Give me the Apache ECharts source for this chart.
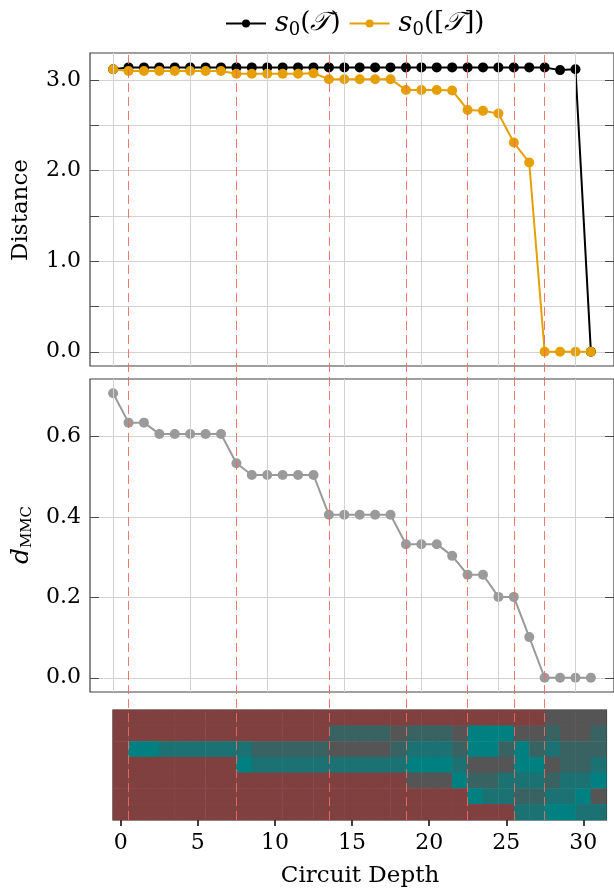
<!DOCTYPE html>
<html><head><meta charset="utf-8">
<script src="https://cdn.jsdelivr.net/npm/echarts@6/dist/echarts.min.js"></script>
<style>html,body{margin:0;padding:0;background:#fff}#c{width:614px;height:890px}</style>
</head><body><div id="c"></div>
<script>
// ---------- data ----------
const depth = [0,1,2,3,4,5,6,7,8,9,10,11,12,13,14,15,16,17,18,19,20,21,22,23,24,25,26,27,28,29,30,31];
const s0T  = [3.12,3.14,3.14,3.14,3.14,3.14,3.14,3.14,3.14,3.14,3.14,3.14,3.14,3.14,3.14,3.14,3.14,3.14,3.14,3.14,3.14,3.14,3.14,3.14,3.14,3.14,3.14,3.14,3.14,3.11,3.12,0];
const s0TT = [3.12,3.10,3.10,3.10,3.10,3.10,3.10,3.10,3.07,3.07,3.07,3.07,3.07,3.075,3.01,3.01,3.01,3.01,3.01,2.89,2.89,2.89,2.885,2.67,2.66,2.63,2.31,2.09,0,0,0,0];
const dMMC = [0.707,0.634,0.634,0.606,0.606,0.606,0.606,0.606,0.533,0.504,0.504,0.504,0.504,0.504,0.405,0.405,0.405,0.405,0.405,0.332,0.332,0.332,0.303,0.256,0.256,0.201,0.201,0.101,0,0,0,0];
const transitions = [1, 8, 14, 19, 23, 26, 28];
const xTicks = [0, 5, 10, 15, 20, 25, 30];
const distTicks = [0, 0.5, 1, 1.5, 2, 2.5, 3];
const distLabels = [0, 1, 2, 3];
const mmcTicks = [0, 0.2, 0.4, 0.6];
// heatmap rows (top to bottom); codes: 0 brown, 1 gray, 2 slate, 3 dark teal, 4 teal
const heatRow0 = [0,0,0,0,0,0,0,0,0,0,0,0,0,0,0,0,0,0,0,0,0,0,0,0,0,0,0,0,1,1,1,1];
const heatRow1 = [0,0,0,0,0,0,0,0,0,0,0,0,0,0,2,2,2,2,1,2,2,2,1,4,4,4,1,1,2,1,1,2];
const heatRow2 = [0,4,4,3,3,3,3,3,3,2,2,2,2,2,1,1,1,1,2,3,3,3,2,4,4,2,4,2,3,2,2,2];
const heatRow3 = [0,0,0,0,0,0,0,0,4,3,3,3,3,3,3,3,3,3,3,4,4,4,3,1,1,1,4,4,1,2,2,3];
const heatRow4 = [0,0,0,0,0,0,0,0,0,0,0,0,0,0,0,0,0,0,0,1,1,1,4,2,2,3,3,3,2,3,3,4];
const heatRow5 = [0,0,0,0,0,0,0,0,0,0,0,0,0,0,0,0,0,0,0,0,0,0,0,4,3,3,2,2,3,3,4,1];
const heatRow6 = [0,0,0,0,0,0,0,0,0,0,0,0,0,0,0,0,0,0,0,0,0,0,0,0,0,0,3,3,4,4,3,3];
const heatColors = ['#804040', '#555555', '#396363', '#1c7272', '#008080'];

// ---------- build ----------
const heatRows = [heatRow0, heatRow1, heatRow2, heatRow3, heatRow4, heatRow5, heatRow6];
const heatData = [];
heatRows.forEach((row, r) => row.forEach((v, c) => heatData.push([c, r, v])));

const FONT = '"DejaVu Serif", serif';
const tickCol = '#4a4a4a';
const gridCol = '#d2d2d2';

function xMirror(gridIndex, position) {
  return {
    type: 'value', gridIndex, position, min: -1.5, max: 32.5,
    axisLine: { show: false, onZero: false },
    axisTick: { show: true, inside: true, length: 9, customValues: xTicks, lineStyle: { color: tickCol, width: 1 } },
    axisLabel: { show: false },
    splitLine: { show: false }
  };
}
function yAxisDef(gridIndex, position, min, max, ticks, labels, split) {
  return {
    type: 'value', gridIndex, position, min, max,
    axisLine: { show: false, onZero: false },
    axisTick: { show: true, inside: true, length: 9, customValues: ticks, lineStyle: { color: tickCol, width: 1 } },
    axisLabel: labels ? { show: true, customValues: labels, margin: 9, fontFamily: FONT, fontSize: 22, color: '#000',
      formatter: v => Number(v).toFixed(1) } : { show: false },
    splitLine: { show: split, lineStyle: { color: gridCol, width: 1 } }
  };
}
// vertical grid lines drawn as mark lines at the x tick values
function vGrid(xi, yi) {
  return { type: 'line', xAxisIndex: xi, yAxisIndex: yi, data: [], z: 1, silent: true,
    markLine: { silent: true, symbol: ['none', 'none'], label: { show: false }, animation: false,
      lineStyle: { type: 'solid', color: gridCol, width: 1 },
      emphasis: { disabled: true },
      data: xTicks.map(t => ({ xAxis: t })) } };
}

const chart = echarts.init(document.getElementById('c'), null, { renderer: 'canvas' });
const legendLabel = {
  s0T: '{it|s}{sub|0}{n|(}{cal|𝒯}{n|)}',
  s0TT: '{it|s}{sub|0}{n|([}{cal|𝒯}{n|])}'
};
chart.setOption({
  animation: false,
  backgroundColor: '#fff',
  grid: [
    { left: 90, right: 0, top: 53, height: 313, show: true, borderColor: '#404040', borderWidth: 1.2, backgroundColor: 'transparent' },
    { left: 90, right: 0, top: 379, height: 313, show: true, borderColor: '#404040', borderWidth: 1.2, backgroundColor: 'transparent' },
    { left: 113, right: 7.5, top: 710, height: 110, show: true, borderColor: '#333', borderWidth: 1.2, backgroundColor: 'transparent' },
    { left: 90, right: 0, top: 53, height: 767, show: false }
  ],
  legend: {
    data: ['s0T', 's0TT'], top: 5, left: 220, itemWidth: 40, itemHeight: 10, itemGap: 8,
    formatter: n => legendLabel[n],
    textStyle: {
      color: '#000',
      padding: [0, 0, 0, 4],
      rich: {
        it: { fontFamily: FONT, fontStyle: 'italic', fontSize: 27, color: '#000' },
        sub: { fontFamily: FONT, fontSize: 18, color: '#000', padding: [13, 0, 0, 0] },
        n: { fontFamily: FONT, fontSize: 26, color: '#000' },
        cal: { fontFamily: FONT, fontStyle: 'italic', fontSize: 26, color: '#000' }
      }
    }
  },
  xAxis: [
    xMirror(0, 'bottom'),
    xMirror(0, 'top'),
    xMirror(1, 'bottom'),
    xMirror(1, 'top'),
    {
      type: 'category', gridIndex: 2, data: depth.map(String), boundaryGap: true,
      axisLine: { show: false, onZero: false },
      axisTick: { show: true, inside: false, length: 6, alignWithLabel: true, interval: (i) => i % 5 === 0, lineStyle: { color: '#000', width: 1.5 } },
      axisLabel: { interval: (i) => i % 5 === 0, margin: 12, fontFamily: FONT, fontSize: 22, color: '#000' },
      splitLine: { show: false }
    },
    { type: 'value', gridIndex: 3, min: -1.5, max: 32.5, show: false }
  ],
  yAxis: [
    yAxisDef(0, 'left', -0.157, 3.299, distTicks, distLabels, true),
    yAxisDef(0, 'right', -0.157, 3.299, distTicks, null, false),
    yAxisDef(1, 'left', -0.0354, 0.7425, mmcTicks, mmcTicks, true),
    yAxisDef(1, 'right', -0.0354, 0.7425, mmcTicks, null, false),
    { type: 'category', gridIndex: 2, data: heatRows.map((_, i) => String(i)), inverse: true, show: false },
    { type: 'value', gridIndex: 3, min: 0, max: 1, show: false }
  ],
  visualMap: {
    type: 'piecewise', show: false, seriesIndex: 3, dimension: 2,
    pieces: heatColors.map((c, i) => ({ value: i, color: c }))
  },
  series: [
    { name: 's0T', type: 'line', xAxisIndex: 0, yAxisIndex: 0, data: depth.map((d, i) => [d, s0T[i]]),
      color: '#000', symbol: 'circle', symbolSize: 10, lineStyle: { width: 2, color: '#000' }, itemStyle: { color: '#000' }, z: 3 },
    { name: 's0TT', type: 'line', xAxisIndex: 0, yAxisIndex: 0, data: depth.map((d, i) => [d, s0TT[i]]),
      color: '#e69f00', symbol: 'circle', symbolSize: 10, lineStyle: { width: 2, color: '#e69f00' }, itemStyle: { color: '#e69f00' }, z: 4 },
    { name: 'dMMC', type: 'line', xAxisIndex: 2, yAxisIndex: 2, data: depth.map((d, i) => [d, dMMC[i]]),
      color: '#9a9a9a', symbol: 'circle', symbolSize: 10, lineStyle: { width: 2, color: '#9a9a9a' }, itemStyle: { color: '#9a9a9a' }, z: 3 },
    { name: 'layers', type: 'heatmap', xAxisIndex: 4, yAxisIndex: 4, data: heatData, itemStyle: { borderWidth: 0 }, z: 2 },
    { name: 'trans', type: 'line', xAxisIndex: 5, yAxisIndex: 5, data: [], z: 10,
      markLine: {
        silent: true, symbol: ['none', 'none'], label: { show: false },
        lineStyle: { type: [9, 5], color: '#ee6a5f', width: 1, opacity: 0.9 },
        data: transitions.map(t => ({ xAxis: t }))
      }
    },
    vGrid(0, 0),
    vGrid(2, 2)
  ],
  graphic: [
    { type: 'text', x: 21, y: 210, rotation: Math.PI / 2,
      style: { text: 'Distance', fontFamily: FONT, fontSize: 23, fill: '#000', align: 'center', verticalAlign: 'middle' } },
    { type: 'text', x: 21, y: 535, rotation: Math.PI / 2,
      style: { text: '{d|d}{s|MMC}', align: 'center', verticalAlign: 'middle',
        rich: { d: { fontFamily: FONT, fontStyle: 'italic', fontSize: 25, fill: '#000' },
                s: { fontFamily: FONT, fontSize: 15, fill: '#000', padding: [12, 0, 0, 0] } } } },
    { type: 'text', x: 360, y: 876,
      style: { text: 'Circuit Depth', fontFamily: FONT, fontSize: 23, fill: '#000', align: 'center', verticalAlign: 'middle' } }
  ]
});
</script>
</body></html>
